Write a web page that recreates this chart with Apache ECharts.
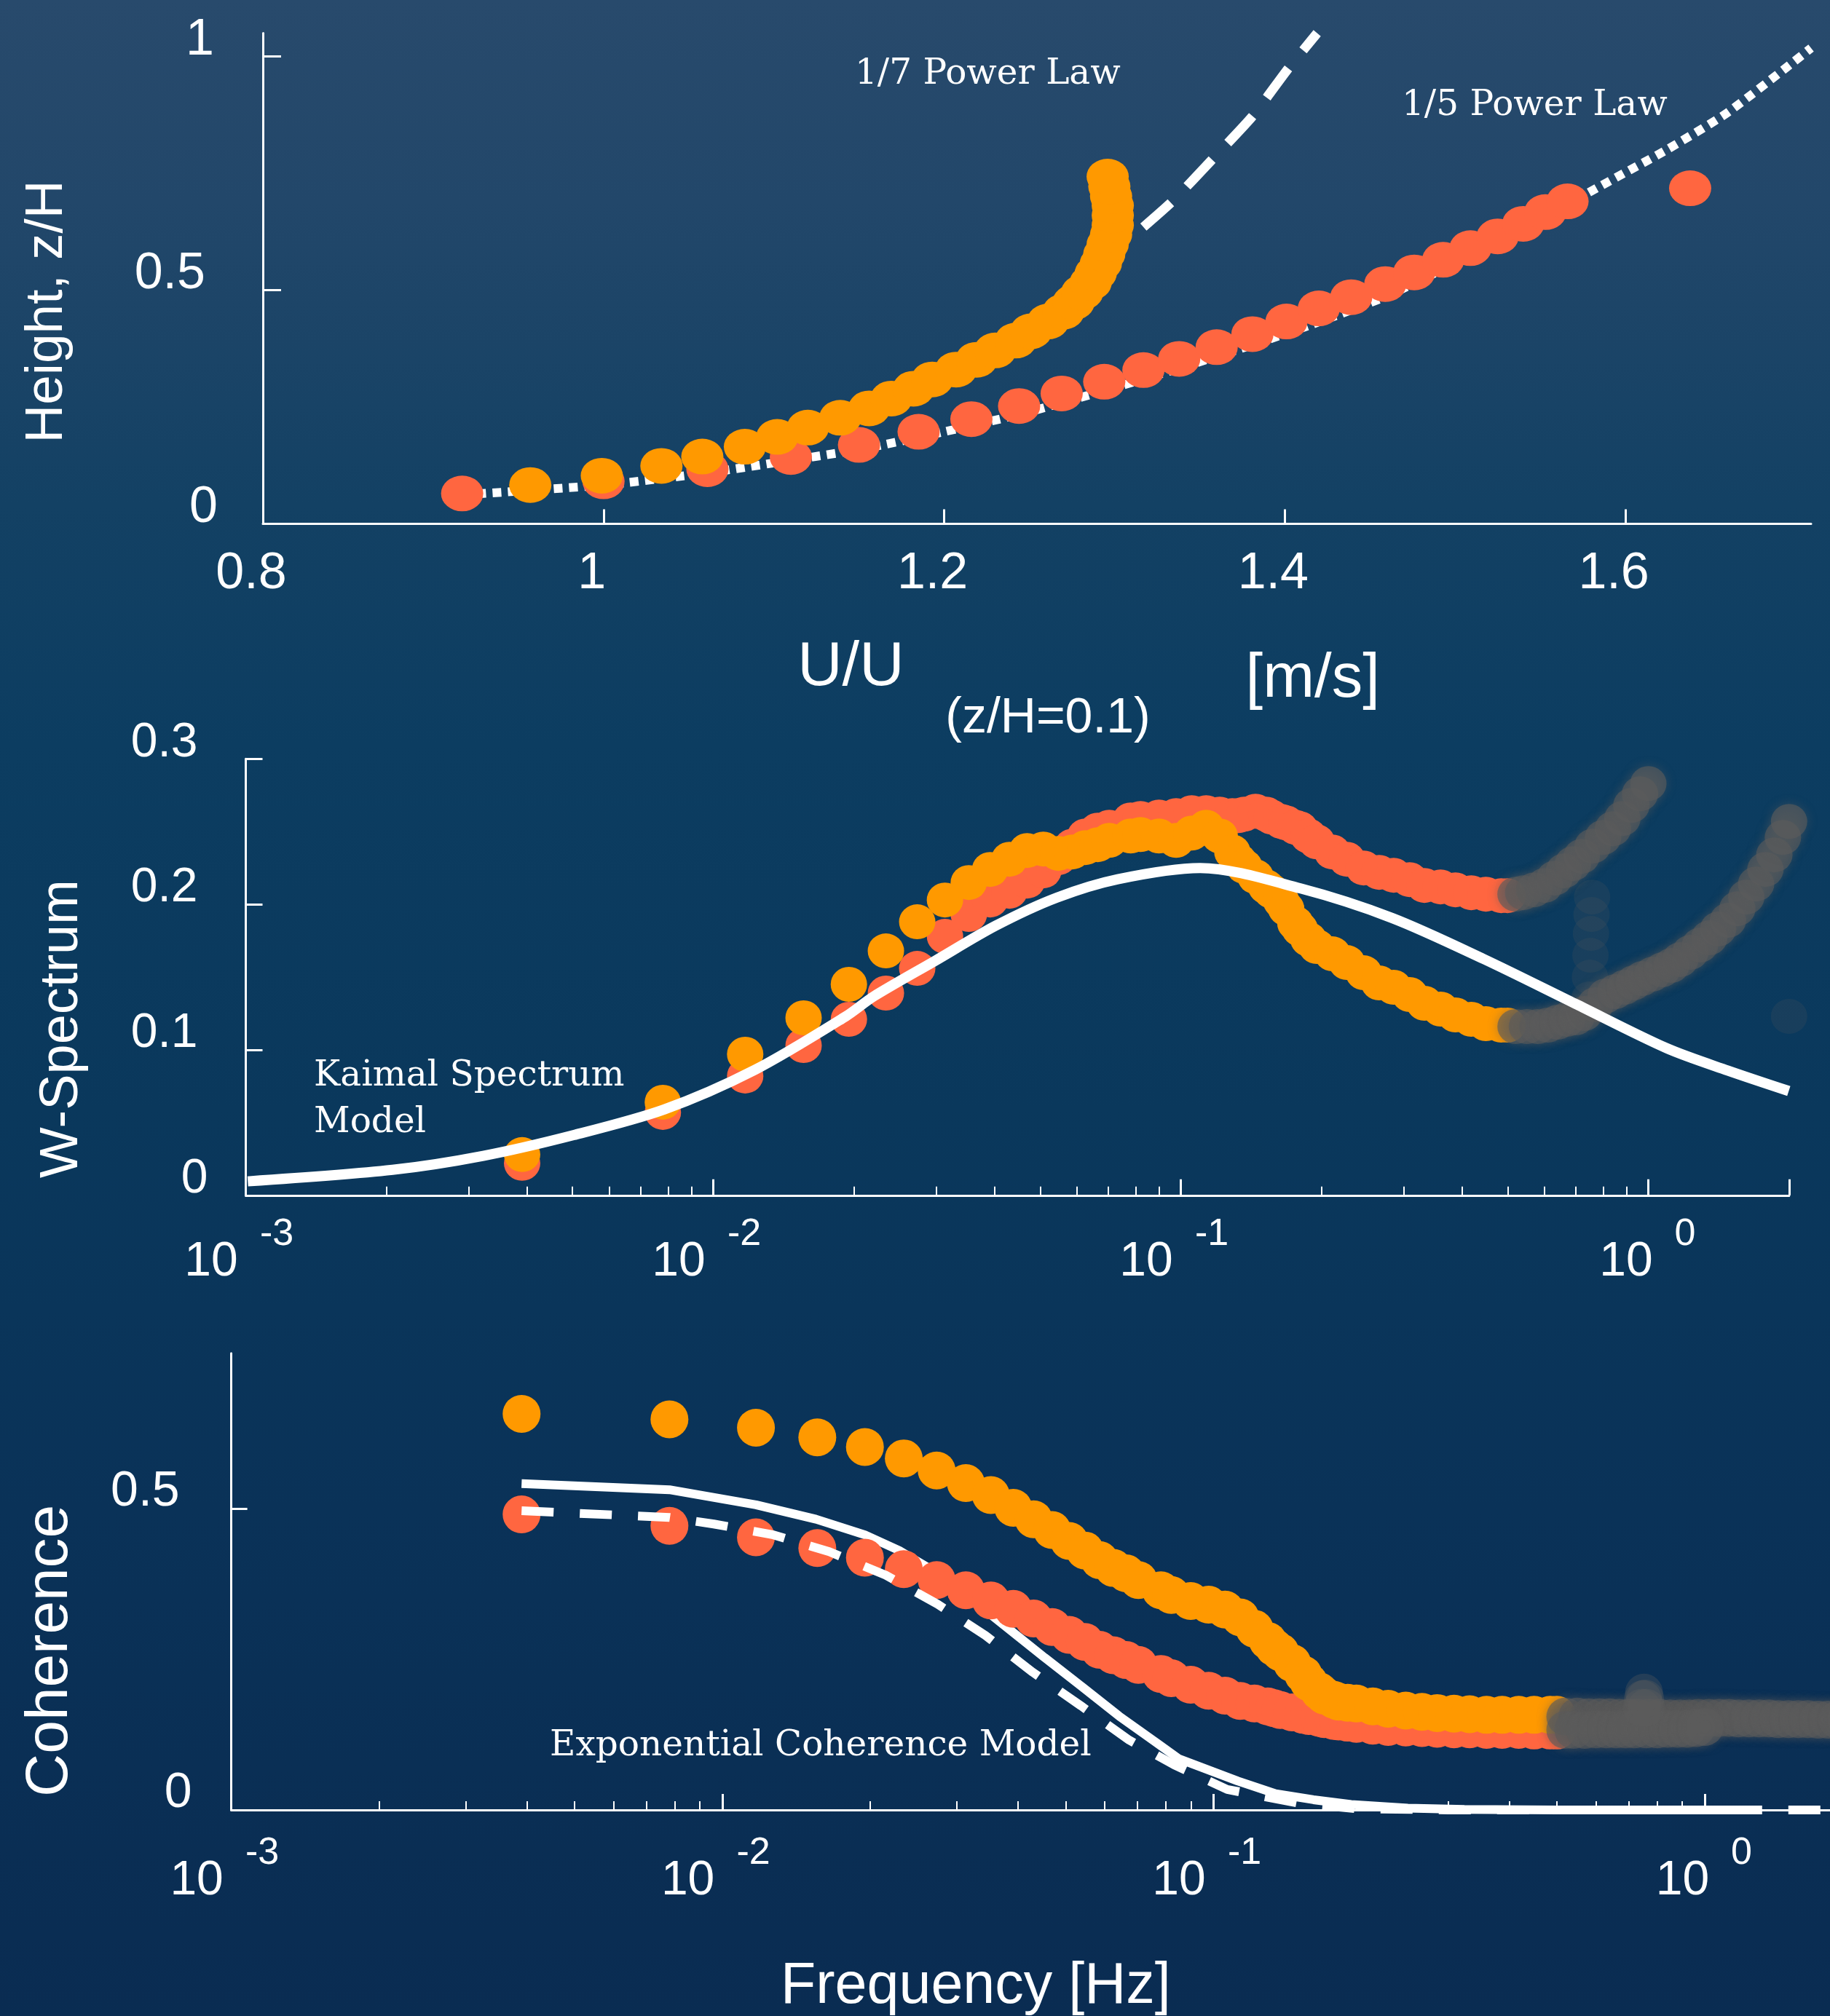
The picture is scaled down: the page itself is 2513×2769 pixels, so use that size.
<!DOCTYPE html>
<html>
<head>
<meta charset="utf-8">
<title>Velocity profile, W-spectrum and coherence</title>
<script src="https://cdn.jsdelivr.net/npm/echarts@6.0.0/dist/echarts.min.js"></script>
<style>
html,body{margin:0;padding:0;width:2513px;height:2769px;overflow:hidden;background:#0b385c;}
#chart{width:2513px;height:2769px;}
</style>
</head>
<body>
<div id="chart"></div>
<script>
// ================= Panel 1 : mean velocity profile =================
const p1LabelValuesX = [0.8, 1, 1.2, 1.4, 1.6];
const p1TickValuesX = [1, 1.2, 1.4, 1.6];
const p1LabelValuesY = [0, 0.5, 1];
const p1TickValuesY = [0.5, 1];

const profileRedU = [0.917,1.000,1.061,1.110,1.150,1.185,1.216,1.244,1.269,1.294,1.317,1.338,1.360,1.381,1.401,1.420,1.439,1.459,1.476,1.493,1.509,1.525,1.540,1.553,1.566,1.638];
const profileRedZ = [0.065,0.091,0.117,0.143,0.169,0.197,0.224,0.252,0.279,0.304,0.329,0.353,0.378,0.406,0.433,0.461,0.485,0.513,0.538,0.565,0.590,0.615,0.642,0.667,0.690,0.718];

const profileOrangeU = [0.957,0.999,1.034,1.058,1.083,1.102,1.120,1.139,1.156,1.169,1.182,1.193,1.207,1.219,1.230,1.242,1.251,1.261,1.270,1.276,1.281,1.286,1.289,1.292,1.294,1.296,1.298,1.299,1.299,1.299,1.298,1.297,1.296];
const profileOrangeZ = [0.083,0.103,0.124,0.144,0.165,0.186,0.206,0.227,0.247,0.268,0.289,0.309,0.330,0.351,0.371,0.392,0.412,0.433,0.454,0.474,0.495,0.516,0.536,0.557,0.577,0.598,0.619,0.639,0.660,0.681,0.701,0.722,0.743];

const powerLaw5U = [0.917,1.000,1.061,1.110,1.150,1.185,1.244,1.294,1.338,1.381,1.420,1.459,1.493,1.525,1.553,1.578,1.624,1.660,1.709];
const powerLaw5Z = [0.062,0.083,0.109,0.136,0.159,0.185,0.234,0.285,0.333,0.383,0.432,0.486,0.545,0.600,0.655,0.708,0.800,0.880,1.018];

const powerLaw7U = [1.317,1.334,1.358,1.381,1.402,1.419];
const powerLaw7Z = [0.635,0.690,0.782,0.872,0.974,1.050];

// ================= Shared frequency grid (Hz) =================
const freqHz = [0.0039,0.0078,0.0117,0.0156,0.0195,0.0234,0.0273,0.0313,0.0352,0.0391,0.0430,0.0469,0.0508,0.0547,0.0586,0.0625,0.0664,0.0703,0.0781,0.0820,0.0898,0.0977,0.1055,0.1133,0.1211,0.1289,0.1328,0.1367,0.1445,0.1523,0.1563,0.1641,0.1680,0.1758,0.1797,0.1875,0.1953,0.2109,0.2266,0.2461,0.2656,0.2852,0.3086,0.3320,0.3594,0.3867,0.4180,0.4492,0.4844,0.5000];

// ================= Panel 2 : W-spectrum =================
const p2TickValuesY = [0, 0.1, 0.2, 0.3];
const spectrumOrange = [0.028,0.064,0.097,0.122,0.145,0.168,0.188,0.203,0.215,0.224,0.231,0.237,0.238,0.235,0.236,0.239,0.241,0.244,0.247,0.248,0.247,0.244,0.249,0.253,0.247,0.236,0.230,0.226,0.219,0.212,0.209,0.202,0.197,0.187,0.183,0.176,0.171,0.166,0.160,0.153,0.146,0.143,0.138,0.132,0.128,0.124,0.121,0.118,0.117,0.117];
const spectrumRed = [0.022,0.057,0.082,0.103,0.121,0.139,0.156,0.178,0.193,0.203,0.209,0.216,0.223,0.232,0.240,0.247,0.251,0.253,0.258,0.259,0.260,0.261,0.263,0.263,0.262,0.261,0.261,0.262,0.264,0.262,0.260,0.257,0.256,0.253,0.252,0.247,0.243,0.236,0.231,0.225,0.222,0.220,0.217,0.213,0.212,0.210,0.208,0.207,0.206,0.206];

const spectrumGrayRedFreq = [0.52,0.54,0.57,0.60,0.63,0.66,0.69,0.72,0.76,0.80,0.84,0.88,0.92,0.96,1.00];
const spectrumGrayRed = [0.207,0.208,0.210,0.213,0.218,0.223,0.228,0.233,0.240,0.246,0.252,0.259,0.268,0.276,0.283];
const spectrumGrayOrangeFreq = [0.52,0.55,0.58,0.61,0.64,0.67,0.70,0.73,0.77,0.81,0.85,0.89,0.93,0.97,1.02,1.07,1.12,1.17,1.23,1.29,1.35,1.41,1.48,1.55,1.62,1.70,1.78,1.86,1.94,2.00];
const spectrumGrayOrange = [0.116,0.116,0.116,0.117,0.119,0.121,0.122,0.125,0.131,0.137,0.140,0.143,0.146,0.149,0.152,0.155,0.158,0.162,0.167,0.172,0.177,0.183,0.189,0.197,0.205,0.214,0.224,0.234,0.246,0.257];
const spectrumSpikeFreq = [0.748,0.750,0.752,0.754,0.756,0.758,2.00];
const spectrumSpike = [0.135,0.150,0.165,0.180,0.193,0.205,0.123];

const kaimalFreq = [0.00101,0.00206,0.00322,0.00503,0.00785,0.01227,0.01918,0.02206,0.02979,0.04023,0.05426,0.07332,0.1100,0.1804,0.2836,0.4446,0.6977,1.095,1.478,1.997];
const kaimalModel = [0.0096,0.0175,0.0271,0.0414,0.0590,0.0862,0.1229,0.1368,0.1611,0.1854,0.2046,0.2173,0.2250,0.2109,0.1905,0.1624,0.1317,0.1011,0.0858,0.0717];

// ================= Panel 3 : coherence =================
const p3LabelValuesY = [0, 0.5];
const p3TickValuesY = [0.5];
const coherenceOrange = [0.658,0.649,0.635,0.619,0.603,0.584,0.564,0.543,0.523,0.502,0.483,0.465,0.447,0.431,0.415,0.402,0.393,0.382,0.365,0.357,0.347,0.341,0.333,0.320,0.301,0.281,0.270,0.262,0.244,0.225,0.212,0.197,0.190,0.183,0.180,0.178,0.177,0.172,0.168,0.165,0.163,0.161,0.160,0.159,0.158,0.158,0.158,0.158,0.158,0.158];
const coherenceRed = [0.491,0.472,0.453,0.435,0.419,0.400,0.382,0.365,0.348,0.334,0.318,0.304,0.291,0.279,0.266,0.257,0.249,0.241,0.226,0.219,0.208,0.198,0.190,0.181,0.177,0.172,0.169,0.166,0.162,0.158,0.156,0.153,0.151,0.148,0.147,0.145,0.143,0.140,0.138,0.137,0.136,0.135,0.134,0.134,0.133,0.133,0.133,0.132,0.132,0.132];

const coherenceGrayOrangeFreq = [0.52,0.55,0.58,0.61,0.64,0.67,0.70,0.73,0.77,0.81,0.85,0.89,0.93,0.97,1.02,1.07,1.12,1.17,1.23,1.29,1.35,1.41,1.48,1.55,1.62,1.70,1.78,1.86,1.94,2.00];
const coherenceGrayOrange = [0.155,0.155,0.154,0.154,0.154,0.153,0.153,0.153,0.153,0.153,0.152,0.152,0.152,0.153,0.153,0.153,0.153,0.152,0.152,0.152,0.152,0.151,0.151,0.151,0.151,0.150,0.150,0.150,0.150,0.150];
const coherenceGrayRedFreq = [0.52,0.54,0.57,0.60,0.63,0.66,0.69,0.72,0.76,0.80,0.84,0.88,0.92,0.96,1.00];
const coherenceGrayRed = [0.133,0.133,0.133,0.134,0.134,0.134,0.134,0.134,0.134,0.134,0.135,0.135,0.135,0.136,0.138];
const coherenceSpikeFreq = [0.744,0.748,0.752,0.756,0.760];
const coherenceSpike = [0.170,0.184,0.195,0.185,0.170];

const cohModelSolidFreq = [0.0039,0.0078,0.0117,0.0155,0.0195,0.0229,0.0268,0.0326,0.0381,0.0453,0.0539,0.0642,0.0764,0.0849,0.1121,0.1337,0.1597,0.1905,0.2485,0.324,0.50,1.13];
const cohModelSolid = [0.542,0.532,0.507,0.483,0.457,0.431,0.398,0.346,0.302,0.253,0.205,0.156,0.112,0.085,0.048,0.027,0.017,0.009,0.003,0.001,0.000,0.000];
const cohModelDashFreq = [0.0039,0.0078,0.0096,0.0127,0.0165,0.0215,0.0274,0.0343,0.0428,0.0537,0.0673,0.0831,0.1066,0.1497,0.1964,0.30,2.00];
const cohModelDash = [0.497,0.486,0.475,0.457,0.429,0.390,0.342,0.290,0.229,0.173,0.116,0.075,0.034,0.011,0.002,0.000,0.000];

// ---------------------------------------------------------------
const zip = (xs, ys) => xs.map((x, i) => [x, ys[i]]);
const WHITE = '#ffffff';
const ORANGE = '#ff9900';
const RED = '#ff6640';
const GRAY = 'rgba(92,92,92,0.78)';
const GRAY_FAINT = 'rgba(92,92,92,0.22)';
const SANS = "'Liberation Sans', Arial, Helvetica, sans-serif";
const SERIF = "'DejaVu Serif', serif";

const axisLine = { show: true, onZero: false, lineStyle: { color: WHITE, width: 3 } };
const grayItem = { color: GRAY, shadowBlur: 14, shadowColor: 'rgba(92,92,92,0.7)' };

// log-axis labels: exponent on first line, "10" on second line
function logLabel(v) {
  const lg = Math.log10(v);
  const e = Math.round(lg);
  if (Math.abs(lg - e) > 1e-6) return '';
  return e === 0 ? '{p|0}\n{b0|10}' : '{e|' + e + '}\n{b|10}';
}
const logRich = {
  e:  { fontSize: 52, lineHeight: 36, padding: [0, 18, 0, 103], color: WHITE, fontFamily: SANS },
  b:  { fontSize: 66, lineHeight: 40, padding: [0, 95, 0, 0], color: WHITE, fontFamily: SANS },
  p:  { fontSize: 52, lineHeight: 36, padding: [0, 2, 0, 103], color: WHITE, fontFamily: SANS },
  b0: { fontSize: 66, lineHeight: 40, padding: [0, 61, 0, 0], color: WHITE, fontFamily: SANS }
};
function logXAxis(gridIndex, labelMargin, extra) {
  return Object.assign({
    type: 'log', logBase: 10, gridIndex: gridIndex, min: 0.001, max: 2,
    axisLine: axisLine,
    axisTick: { show: true, inside: true, length: 22, lineStyle: { color: WHITE, width: 3 } },
    minorTick: { show: true, splitNumber: 9, length: 12, lineStyle: { color: WHITE, width: 2 } },
    splitLine: { show: false }, minorSplitLine: { show: false },
    axisLabel: { show: true, margin: labelMargin, formatter: logLabel, rich: logRich, color: WHITE, fontFamily: SANS, fontSize: 66 }
  }, extra || {});
}

const option = {
  animation: false,
  backgroundColor: {
    type: 'linear', x: 0, y: 0, x2: 0, y2: 1,
    colorStops: [
      { offset: 0, color: '#284a6c' },
      { offset: 0.1, color: '#22476a' },
      { offset: 0.25, color: '#134164' },
      { offset: 0.37, color: '#0c3d61' },
      { offset: 0.55, color: '#0a385c' },
      { offset: 0.75, color: '#0a3258' },
      { offset: 1, color: '#0a2c52' }
    ]
  },
  grid: [
    { left: 361, top: 45.5, width: 2126, height: 674, outerBoundsMode: 'none', containLabel: false },
    { left: 337.5, top: 1042.3, width: 2119.3, height: 599.5, outerBoundsMode: 'none', containLabel: false },
    { left: 317.6, top: 1858.7, width: 2226.5, height: 627.3, outerBoundsMode: 'none', containLabel: false }
  ],
  xAxis: [
    {
      type: 'value', gridIndex: 0, min: 0.8, max: 1.709, interval: 0.2,
      axisLine: axisLine,
      axisTick: { show: true, inside: true, length: 20, customValues: p1TickValuesX, lineStyle: { color: WHITE, width: 3 } },
      splitLine: { show: false },
      axisLabel: {
        show: true, customValues: p1LabelValuesX, margin: 34, padding: [0, 32, 0, 0],
        color: WHITE, fontSize: 70, fontFamily: SANS,
        formatter: v => String(Math.round(v * 10) / 10)
      },
      name: '{u|U/U}{m|[m/s]}\n{z|(z/H=0.1)}',
      nameLocation: 'middle', nameGap: 156,
      nameTextStyle: {
        color: WHITE, fontFamily: SANS, padding: [0, 0, 0, 142],
        rich: {
          u: { fontSize: 85, lineHeight: 85, color: WHITE, fontFamily: SANS },
          m: { fontSize: 85, lineHeight: 85, padding: [32, 0, 0, 469], color: WHITE, fontFamily: SANS },
          z: { fontSize: 68, lineHeight: 54, padding: [0, 112, 0, 0], color: WHITE, fontFamily: SANS }
        }
      }
    },
    logXAxis(1, 36),
    logXAxis(2, 42, {
      name: 'Frequency [Hz]', nameLocation: 'middle', nameGap: 204,
      nameTextStyle: { color: WHITE, fontSize: 79, fontFamily: SANS, padding: [0, 182, 0, 0] }
    })
  ],
  yAxis: [
    {
      type: 'value', gridIndex: 0, min: 0, max: 1.05, interval: 0.5,
      axisLine: axisLine,
      axisTick: { show: true, inside: true, length: 25, customValues: p1TickValuesY, lineStyle: { color: WHITE, width: 3 } },
      splitLine: { show: false },
      axisLabel: {
        show: true, customValues: p1LabelValuesY, margin: 62, padding: [0, 0, 44, 0],
        color: WHITE, fontSize: 70, fontFamily: SANS,
        formatter: v => v === 0 ? '{z|0}' : (v === 0.5 ? '{h|0.5}' : '{o|1}'),
        rich: {
          z: { fontSize: 70, color: WHITE, fontFamily: SANS },
          h: { fontSize: 70, color: WHITE, fontFamily: SANS, padding: [0, 17, 0, 0] },
          o: { fontSize: 70, color: WHITE, fontFamily: SANS, padding: [0, 5, 0, 0] }
        }
      },
      name: 'Height, z/H', nameLocation: 'middle', nameRotate: 90, nameGap: 260,
      nameTextStyle: { color: WHITE, fontSize: 73, fontFamily: SANS, padding: [0, 91, 0, 0] }
    },
    {
      type: 'value', gridIndex: 1, min: 0, max: 0.3, interval: 0.1,
      axisLine: axisLine,
      axisTick: { show: true, inside: true, length: 23, lineStyle: { color: WHITE, width: 3 } },
      splitLine: { show: false },
      axisLabel: {
        show: true, customValues: p2TickValuesY, margin: 52, padding: [0, 0, 44, 0],
        color: WHITE, fontSize: 66, fontFamily: SANS,
        formatter: v => v === 0 ? '{z|0}' : '{d|' + (Math.round(v * 10) / 10) + '}',
        rich: {
          z: { fontSize: 66, color: WHITE, fontFamily: SANS },
          d: { fontSize: 66, color: WHITE, fontFamily: SANS, padding: [0, 14, 0, 0] }
        }
      },
      name: 'W-Spectrum', nameLocation: 'middle', nameRotate: 90, nameGap: 215,
      nameTextStyle: { color: WHITE, fontSize: 74, fontFamily: SANS, padding: [0, 142, 0, 0] }
    },
    {
      type: 'value', gridIndex: 2, min: 0, max: 0.7587, interval: 0.5,
      axisLine: axisLine,
      axisTick: { show: true, inside: true, length: 22, customValues: p3TickValuesY, lineStyle: { color: WHITE, width: 3 } },
      splitLine: { show: false },
      axisLabel: {
        show: true, customValues: p3LabelValuesY, margin: 54, padding: [0, 0, 46, 0],
        color: WHITE, fontSize: 68, fontFamily: SANS,
        formatter: v => v === 0 ? '{z|0}' : '{d|0.5}',
        rich: {
          z: { fontSize: 68, color: WHITE, fontFamily: SANS },
          d: { fontSize: 68, color: WHITE, fontFamily: SANS, padding: [0, 17, 0, 0] }
        }
      },
      name: 'Coherence', nameLocation: 'middle', nameRotate: 90, nameGap: 207,
      nameTextStyle: { color: WHITE, fontSize: 82, fontFamily: SANS, padding: [0, 190, 0, 0] }
    }
  ],
  series: [
    // ---- panel 1 ----
    { name: '1/5 power law', type: 'line', xAxisIndex: 0, yAxisIndex: 0, z: 2, silent: true,
      data: zip(powerLaw5U, powerLaw5Z), symbol: 'none', smooth: 0.2,
      lineStyle: { color: WHITE, width: 12, type: [12, 9] } },
    { name: 'profile red', type: 'scatter', xAxisIndex: 0, yAxisIndex: 0, z: 3, silent: true,
      data: zip(profileRedU, profileRedZ), symbolSize: [58, 49], itemStyle: { color: RED, opacity: 1 } },
    { name: 'profile orange', type: 'scatter', xAxisIndex: 0, yAxisIndex: 0, z: 4, silent: true,
      data: zip(profileOrangeU, profileOrangeZ), symbolSize: [58, 49], itemStyle: { color: ORANGE, opacity: 1 } },
    { name: '1/7 power law', type: 'line', xAxisIndex: 0, yAxisIndex: 0, z: 6, silent: true,
      data: zip(powerLaw7U, powerLaw7Z), symbol: 'none', smooth: 0.2,
      lineStyle: { color: WHITE, width: 13, type: [50, 32] } },
    // ---- panel 2 ----
    { name: 'spectrum red', type: 'scatter', xAxisIndex: 1, yAxisIndex: 1, z: 3, silent: true,
      data: zip(freqHz, spectrumRed), symbolSize: [50, 48], itemStyle: { color: RED, opacity: 1 } },
    { name: 'spectrum orange', type: 'scatter', xAxisIndex: 1, yAxisIndex: 1, z: 4, silent: true,
      data: zip(freqHz, spectrumOrange), symbolSize: [50, 48], itemStyle: { color: ORANGE, opacity: 1 } },
    { name: 'spectrum gray red', type: 'scatter', xAxisIndex: 1, yAxisIndex: 1, z: 5, silent: true,
      data: zip(spectrumGrayRedFreq, spectrumGrayRed), symbolSize: [50, 48], itemStyle: grayItem },
    { name: 'spectrum gray orange', type: 'scatter', xAxisIndex: 1, yAxisIndex: 1, z: 5, silent: true,
      data: zip(spectrumGrayOrangeFreq, spectrumGrayOrange), symbolSize: [50, 48], itemStyle: grayItem },
    { name: 'spectrum gray spike', type: 'scatter', xAxisIndex: 1, yAxisIndex: 1, z: 5, silent: true,
      data: zip(spectrumSpikeFreq, spectrumSpike), symbolSize: [50, 48], itemStyle: { color: GRAY_FAINT } },
    { name: 'Kaimal spectrum model', type: 'line', xAxisIndex: 1, yAxisIndex: 1, z: 6, silent: true,
      data: zip(kaimalFreq, kaimalModel), symbol: 'none', smooth: 0.3,
      lineStyle: { color: WHITE, width: 14 } },
    // ---- panel 3 ----
    { name: 'coherence model solid', type: 'line', xAxisIndex: 2, yAxisIndex: 2, z: 2, silent: true,
      data: zip(cohModelSolidFreq, cohModelSolid), symbol: 'none',
      lineStyle: { color: WHITE, width: 12 } },
    { name: 'coherence red', type: 'scatter', xAxisIndex: 2, yAxisIndex: 2, z: 3, silent: true,
      data: zip(freqHz, coherenceRed), symbolSize: [52, 52], itemStyle: { color: RED, opacity: 1 } },
    { name: 'coherence orange', type: 'scatter', xAxisIndex: 2, yAxisIndex: 2, z: 4, silent: true,
      data: zip(freqHz, coherenceOrange), symbolSize: [52, 52], itemStyle: { color: ORANGE, opacity: 1 } },
    { name: 'coherence gray orange', type: 'scatter', xAxisIndex: 2, yAxisIndex: 2, z: 5, silent: true,
      data: zip(coherenceGrayOrangeFreq, coherenceGrayOrange), symbolSize: [52, 52], itemStyle: grayItem },
    { name: 'coherence gray red', type: 'scatter', xAxisIndex: 2, yAxisIndex: 2, z: 5, silent: true,
      data: zip(coherenceGrayRedFreq, coherenceGrayRed), symbolSize: [52, 52], itemStyle: grayItem },
    { name: 'coherence gray spike', type: 'scatter', xAxisIndex: 2, yAxisIndex: 2, z: 5, silent: true,
      data: zip(coherenceSpikeFreq, coherenceSpike), symbolSize: [52, 52], itemStyle: { color: 'rgba(92,92,92,0.4)' } },
    { name: 'coherence model dashed', type: 'line', xAxisIndex: 2, yAxisIndex: 2, z: 6, silent: true,
      data: zip(cohModelDashFreq, cohModelDash), symbol: 'none',
      lineStyle: { color: WHITE, width: 12, type: [44, 36] } }
  ],
  graphic: {
    elements: [
      { type: 'text', x: 1174, y: 102, silent: true,
        style: { text: '1/7 Power Law', fill: WHITE, font: '48.5px ' + SERIF, align: 'left', verticalAlign: 'middle' } },
      { type: 'text', x: 1925, y: 145, silent: true,
        style: { text: '1/5 Power Law', fill: WHITE, font: '48.5px ' + SERIF, align: 'left', verticalAlign: 'middle' } },
      { type: 'text', x: 431, y: 1478, silent: true,
        style: { text: 'Kaimal Spectrum', fill: WHITE, font: '48.5px ' + SERIF, align: 'left', verticalAlign: 'middle' } },
      { type: 'text', x: 431, y: 1542, silent: true,
        style: { text: 'Model', fill: WHITE, font: '48.5px ' + SERIF, align: 'left', verticalAlign: 'middle' } },
      { type: 'text', x: 755, y: 2398, silent: true,
        style: { text: 'Exponential Coherence Model', fill: WHITE, font: '48.5px ' + SERIF, align: 'left', verticalAlign: 'middle' } }
    ]
  }
};

const chart = echarts.init(document.getElementById('chart'), null, { renderer: 'canvas', width: 2513, height: 2769 });
chart.setOption(option);
</script>
</body>
</html>
